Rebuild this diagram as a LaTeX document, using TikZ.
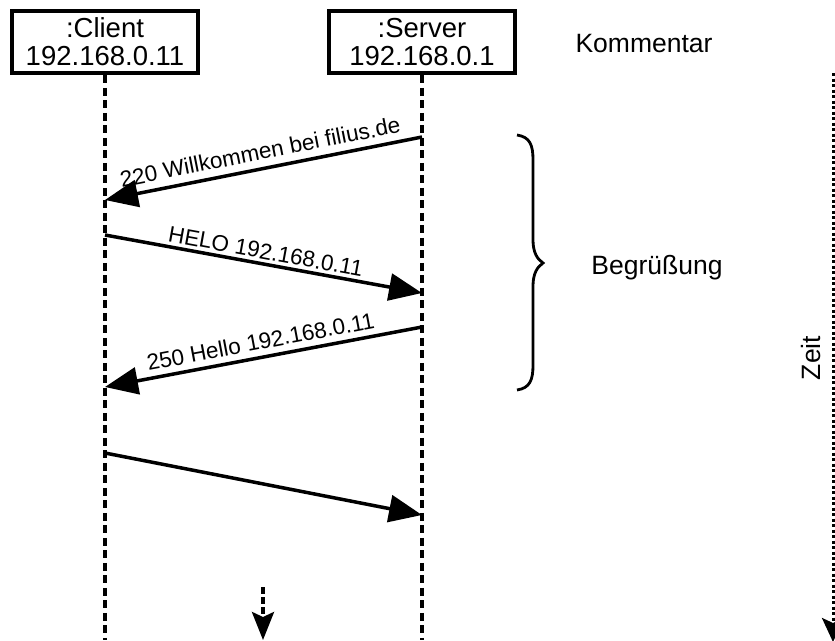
\documentclass[tikz,border=0pt]{standalone}
\usepackage{fontspec}
\setmainfont{Liberation Sans}
\usetikzlibrary{arrows.meta}
\begin{document}
\begin{tikzpicture}[x=1pt,y=-1pt,
  lifebox/.style={draw, line width=4.5pt, minimum width=186pt, minimum height=62pt, inner sep=0pt, align=center, font=\fontsize{27.5}{28}\selectfont},
  lifeline/.style={line width=4pt, dash pattern=on 8pt off 4.5pt},
  msg/.style={line width=3.5pt, -{Triangle[length=33pt,width=27pt]}},
  msglabel/.style={font=\fontsize{22.5}{24}\selectfont, sloped, midway, inner sep=0pt},
  cmt/.style={font=\fontsize{26.5}{28}\selectfont, inner sep=0pt},
  timeline/.style={line width=3pt, dash pattern=on 3pt off 2.5pt, -{Stealth[length=24pt,width=22pt,inset=5pt]}},
  moreline/.style={line width=3.5pt, dash pattern=on 7pt off 3pt, -{Stealth[length=28pt,width=22pt,inset=5pt]}},
  bracestyle/.style={line width=2.8pt},
]
\useasboundingbox (0,0) rectangle (835,640);

% lifeline heads
\node[lifebox] (client) at (105,42) {:Client\\192.168.0.11};
\node[lifebox] (server) at (422,42) {:Server\\192.168.0.1};

% lifeline ends
\coordinate (clientend) at (105,640);
\coordinate (serverend) at (422,640);
\draw[lifeline] (client.south) -- (clientend);
\draw[lifeline] (server.south) -- (serverend);

% message points
\coordinate (s1) at (422,137);
\coordinate (c1) at (105,200);
\coordinate (c2) at (105,235);
\coordinate (s2) at (422,293);
\coordinate (s3) at (422,327);
\coordinate (c3) at (105,387);
\coordinate (c4) at (105,453);
\coordinate (s4) at (422,515);

\draw[msg] (s1) -- node[msglabel, above=7pt] (l1) {220 Willkommen bei filius.de} (c1);
\draw[msg] (c2) -- node[msglabel, above=3pt] (l2) {HELO 192.168.0.11} (s2);
\draw[msg] (s3) -- node[msglabel, above=6pt] (l3) {250 Hello 192.168.0.11} (c3);
\draw[msg] (c4) -- (s4);

% continuation arrow
\coordinate (mstart) at (263,587);
\coordinate (mend) at (263,640);
\draw[moreline] (mstart) -- (mend);

% comment column
\node[cmt, anchor=base] (kommentar) at (644,52) {Kommentar};
\draw[bracestyle] (517,135) .. controls (530,137) and (533,145) .. (533,160) -- (533,240)
  .. controls (533,252) and (537,259) .. (543,263)
  .. controls (537,267) and (533,274) .. (533,286) -- (533,365)
  .. controls (533,380) and (530,388) .. (517,390);
\node[cmt, anchor=base] (gruss) at (657,274) {Begrüßung};

% time axis
\coordinate (ztop) at (833,73);
\coordinate (zbot) at (833,642);
\draw[timeline] (ztop) -- (zbot);
\node[cmt, rotate=90, anchor=base] (zeit) at (820,358) {Zeit};
\end{tikzpicture}
\end{document}
